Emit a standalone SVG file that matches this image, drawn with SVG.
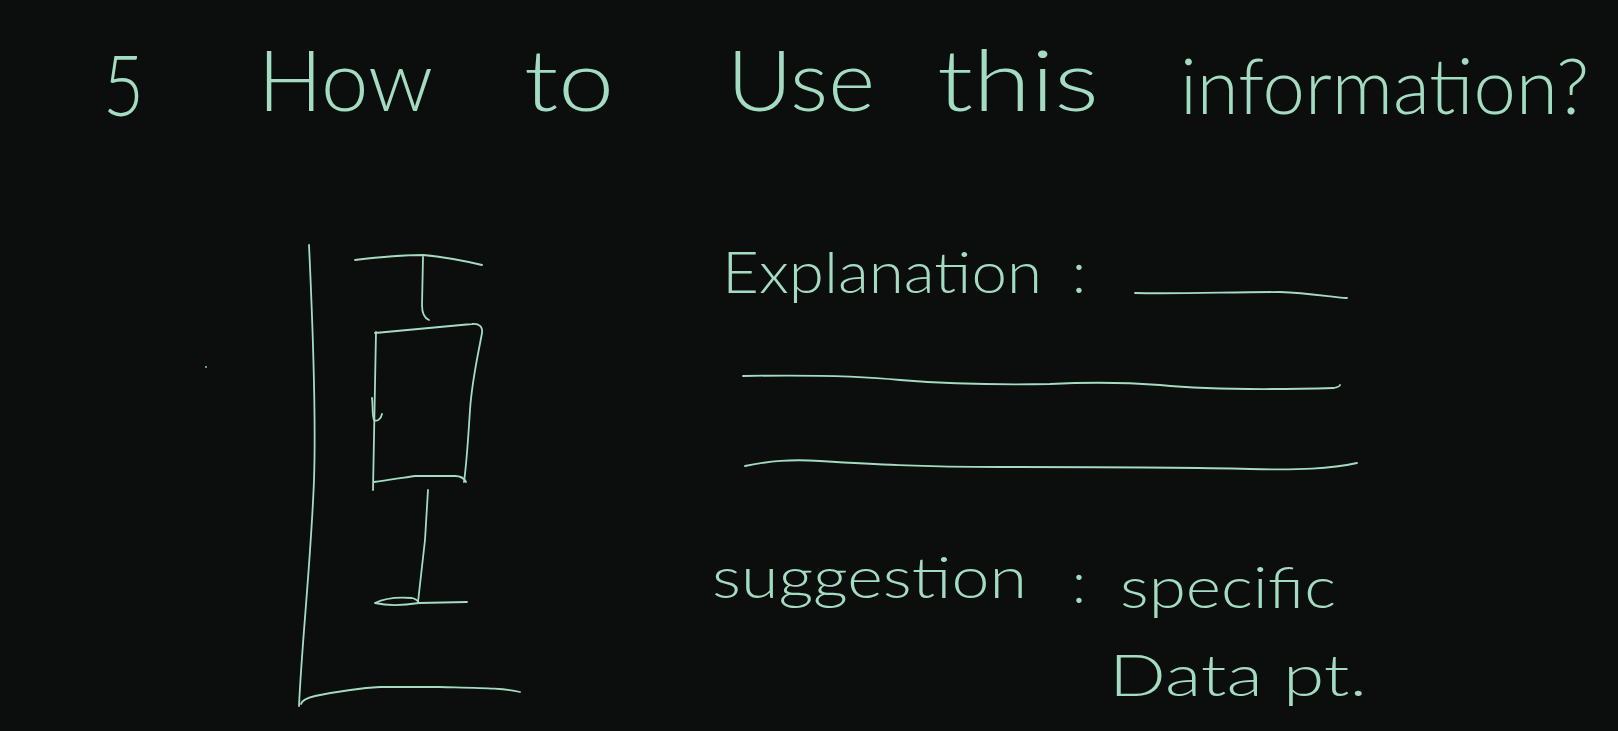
<svg xmlns="http://www.w3.org/2000/svg" width="1618" height="731" viewBox="0 0 1618 731">
<style>
.bg{fill:#0c0d0d}
.ink{fill:none;stroke:#a3dcc2;stroke-width:1.8;stroke-linecap:round;stroke-linejoin:round}
.t{fill:#a3dcc2;font-family:"Lato","Open Sans","Liberation Sans",sans-serif;font-weight:300}
.title{font-size:84px}
.lbl{font-size:58px}
</style>
<rect class="bg" x="0" y="0" width="1618" height="731"/>
<g id="title">
<text class="t title" x="103" y="116" textLength="41" lengthAdjust="spacingAndGlyphs">5</text>
<text class="t title" x="258" y="111" textLength="175" lengthAdjust="spacingAndGlyphs">How</text>
<text class="t title" x="524" y="111" textLength="90" lengthAdjust="spacingAndGlyphs">to</text>
<text class="t title" x="727" y="111" textLength="148" lengthAdjust="spacingAndGlyphs">Use</text>
<text class="t title" x="937" y="111" textLength="162" lengthAdjust="spacingAndGlyphs">this</text>
<text class="t title" x="1589" y="114" text-anchor="end" style="font-size:76px">information?</text>
</g>
<g id="chart">
<path class="ink" d="M309,245 C313,330 316,420 314,480 C311,560 302,640 299,706"/>
<path class="ink" d="M301,704 C302,700 306,698 315,696 C340,691 360,688 380,687 L440,687 C480,688 505,688 520,692"/>
<path class="ink" d="M355,260 C380,257 400,255 423,255 C445,257 465,261 482,265"/>
<path class="ink" d="M423,257 L422,305 C422,312 424,318 429,320"/>
<path class="ink" d="M375,333 L472,324 C479,323 483,327 482,333 C478,355 472,380 470,410 C468,440 467,460 464,482"/>
<path class="ink" d="M374,482 C390,480 400,478 415,476 L455,476 C460,476 464,478 466,482"/>
<path class="ink" d="M376,332 L373,490"/>
<path class="ink" d="M372,398 C373,405 372,415 374,420 C377,422 381,419 382,414"/>
<path class="ink" d="M428,490 L425,540 L418,602"/>
<path class="ink" d="M375,603 C385,598 400,597 412,598 C416,599 418,601 419,603 C400,606 388,606 375,603 M419,603 L467,602"/>
<circle cx="206" cy="367" r="0.9" fill="#a3dcc2"/>
</g>
<g id="explanation">
<text class="t lbl" x="722" y="293" textLength="320" lengthAdjust="spacingAndGlyphs">Explanation</text>
<text class="t lbl" x="1072" y="293">:</text>
<path class="ink" d="M1135,293 C1180,294 1230,292 1280,292 C1310,293 1330,297 1347,298"/>
<path class="ink" d="M743,376 C800,375 850,375 900,380 C950,384 1000,385 1050,384 C1090,382 1120,382 1160,385 C1200,389 1260,390 1334,388 C1338,387 1340,386 1340,385"/>
<path class="ink" d="M745,466 C770,461 790,459 820,461 C870,464 920,467 1000,467 C1100,467 1180,467 1250,469 C1300,470 1330,469 1357,463"/>
</g>
<g id="suggestion">
<text class="t lbl" x="712" y="598" textLength="315" lengthAdjust="spacingAndGlyphs">suggestion</text>
<text class="t lbl" x="1072" y="603">:</text>
<text class="t lbl" x="1120" y="608" textLength="216" lengthAdjust="spacingAndGlyphs">specific</text>
<text class="t lbl" x="1109" y="696" textLength="258" lengthAdjust="spacingAndGlyphs">Data pt.</text>
</g>
</svg>
